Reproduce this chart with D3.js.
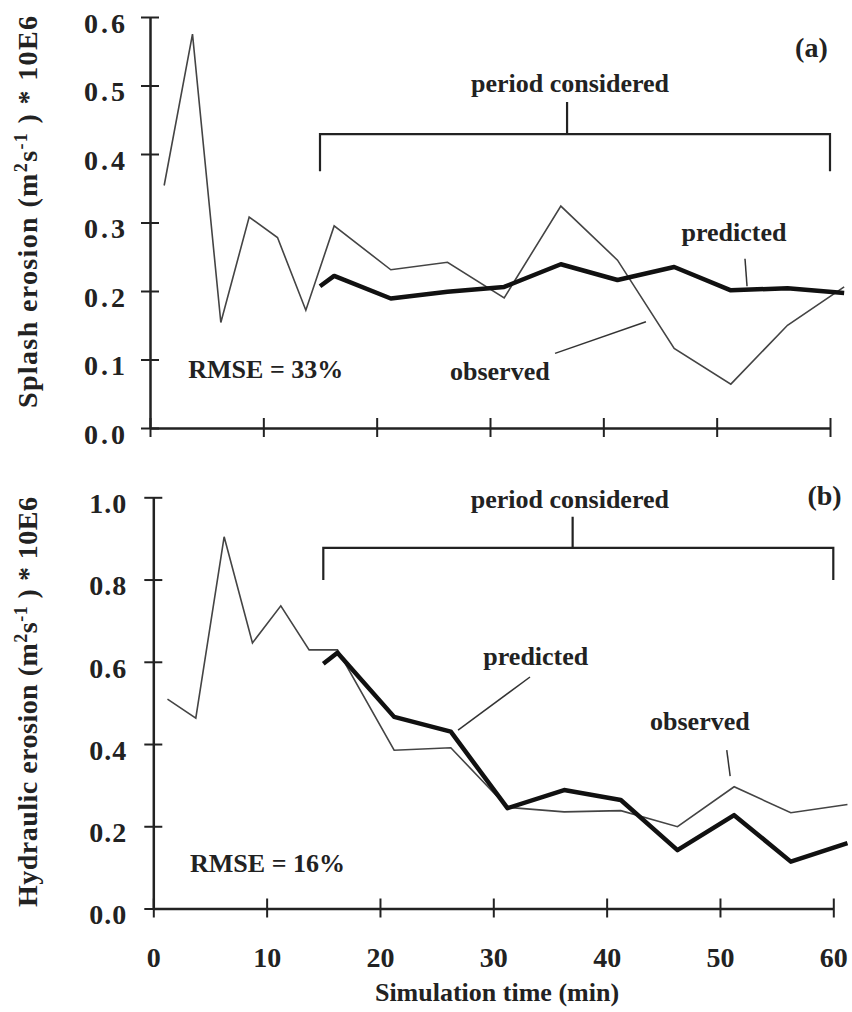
<!DOCTYPE html>
<html>
<head>
<meta charset="utf-8">
<script src="https://cdn.jsdelivr.net/npm/d3@7"></script>
<style>
  html, body { margin: 0; padding: 0; background: #fff; }
  svg text { font-family: "Liberation Serif", "Times New Roman", serif; font-weight: bold; fill: #222; }
</style>
</head>
<body>
<svg id="chart" width="852" height="1012"></svg>
<script>
// sample times (min)
var obsTime = [1.25, 3.75, 6.25, 8.75, 11.25, 13.75, 16.25, 21.25, 26.25, 31.25, 36.25, 41.25, 46.25, 51.25, 56.25, 61.25];
var predTime = [15, 16.25, 21.25, 26.25, 31.25, 36.25, 41.25, 46.25, 51.25, 56.25, 61.25];

// (a) splash erosion
var splashObserved = [0.354, 0.575, 0.154, 0.308, 0.278, 0.172, 0.295, 0.231, 0.242, 0.190, 0.324, 0.245, 0.116, 0.064, 0.150, 0.206];
var splashPredicted = [0.207, 0.222, 0.189, 0.199, 0.206, 0.239, 0.216, 0.235, 0.201, 0.204, 0.197];
var splashTicks = [0, 0.1, 0.2, 0.3, 0.4, 0.5, 0.6];

// (b) hydraulic erosion
var hydraulicObserved = [0.509, 0.463, 0.904, 0.646, 0.736, 0.629, 0.629, 0.385, 0.391, 0.246, 0.235, 0.238, 0.199, 0.296, 0.233, 0.253];
var hydraulicPredicted = [0.595, 0.622, 0.466, 0.430, 0.244, 0.288, 0.264, 0.142, 0.227, 0.114, 0.159];
var hydraulicTicks = [0, 0.2, 0.4, 0.6, 0.8, 1.0];

var timeTicks = [0, 10, 20, 30, 40, 50, 60];

var svg = d3.select('#chart');

var panels = [
    {
        x0: 150, x1: 830, y0: 428, y1: 17, yMax: 0.6,
        observed: splashObserved, predicted: splashPredicted, yTicks: splashTicks,
        yFormat: d3.format('.1f'), tickLabelX: -22, tickSpacing: 3,
        xLabels: false, letter: '(a)', letterPos: [59.8, 0.542],
        yTitle: 'Splash erosion', titleY: 212, titleLen: 392,
        rmse: 'RMSE = 33%', rmsePos: [3.38, 0.073],
        bracket: { from: 15, to: 60, top: 0.429, leg: 0.375, mid: 36.8, midTop: 0.476, text: [37.06, 0.4905] },
        notes: [
            { text: 'predicted', at: [46.9, 0.273], line: [[52.5, 0.247], [52.68, 0.207]] },
            { text: 'observed', at: [26.47, 0.070], line: [[35.74, 0.109], [43.76, 0.155]] }
        ]
    },
    {
        x0: 153.3, x1: 833.3, y0: 908.5, y1: 497.3, yMax: 1.0,
        observed: hydraulicObserved, predicted: hydraulicPredicted, yTicks: hydraulicTicks,
        yFormat: d3.format('.1f'), tickLabelX: -26, tickSpacing: 1,
        xLabels: true, letter: '(b)', letterPos: [60.74, 0.981],
        yTitle: 'Hydraulic erosion', titleY: 702, titleLen: 410,
        rmse: 'RMSE = 16%', rmsePos: [3.24, 0.0895],
        bracket: { from: 15, to: 60, top: 0.877, leg: 0.799, mid: 37.0, midTop: 0.953, text: [36.76, 0.974] },
        notes: [
            { text: 'predicted', at: [29.12, 0.592], line: [[33.24, 0.563], [26.89, 0.434]] },
            { text: 'observed', at: [43.83, 0.434], line: [[50.6, 0.385], [50.9, 0.322]] }
        ]
    }
];

panels.forEach(drawPanel);

svg.append('text')
    .attr('x', 497)
    .attr('y', 1001)
    .attr('text-anchor', 'middle')
    .attr('font-size', 26)
    .text('Simulation time (min)');

function drawPanel(p) {
    var x = d3.scaleLinear().domain([0, 60]).range([p.x0, p.x1]);
    var y = d3.scaleLinear().domain([0, p.yMax]).range([p.y0, p.y1]);
    var g = svg.append('g');

    // axes
    var yAxis = d3.axisLeft(y).tickValues(p.yTicks).tickFormat(p.yFormat)
        .tickSize(9).tickSizeOuter(0).tickPadding(0);
    var ya = g.append('g').attr('transform', 'translate(' + p.x0 + ',0)').call(yAxis);
    ya.selectAll('.tick line').attr('x1', 9);
    ya.selectAll('.tick text')
        .attr('x', p.tickLabelX)
        .attr('dy', '0.55em')
        .attr('font-size', 28)
        .attr('letter-spacing', p.tickSpacing);

    var xAxis = d3.axisBottom(x).tickValues(timeTicks)
        .tickFormat(p.xLabels ? d3.format('d') : '')
        .tickSize(9).tickSizeOuter(0);
    var xa = g.append('g').attr('transform', 'translate(0,' + p.y0 + ')').call(xAxis);
    xa.selectAll('.tick line').attr('y1', -10);
    xa.selectAll('.tick text').attr('y', 58).attr('dy', 0).attr('font-size', 28);

    [ya, xa].forEach(function (a) {
        a.attr('font-family', null).attr('font-size', null);
        a.select('.domain').attr('stroke', '#222').attr('stroke-width', 2.5);
        a.selectAll('.tick line').attr('stroke', '#222').attr('stroke-width', 2);
        a.selectAll('.tick text').attr('fill', '#222');
    });

    // series
    var obsLine = d3.line().x(function (d, i) { return x(obsTime[i]); }).y(function (d) { return y(d); });
    var predLine = d3.line().x(function (d, i) { return x(predTime[i]); }).y(function (d) { return y(d); });

    g.append('path').datum(p.observed)
        .attr('d', obsLine)
        .attr('fill', 'none').attr('stroke', '#444').attr('stroke-width', 1.6)
        .attr('stroke-linejoin', 'miter');

    g.append('path').datum(p.predicted)
        .attr('d', predLine)
        .attr('fill', 'none').attr('stroke', '#111').attr('stroke-width', 4.5)
        .attr('stroke-linejoin', 'round');

    // bracket for the period considered
    var b = p.bracket;
    var bracketPath = d3.path();
    bracketPath.moveTo(x(b.from), y(b.leg));
    bracketPath.lineTo(x(b.from), y(b.top));
    bracketPath.lineTo(x(b.to), y(b.top));
    bracketPath.lineTo(x(b.to), y(b.leg));
    bracketPath.moveTo(x(b.mid), y(b.top));
    bracketPath.lineTo(x(b.mid), y(b.midTop));
    g.append('path').attr('d', bracketPath.toString())
        .attr('fill', 'none').attr('stroke', '#222').attr('stroke-width', 2.2);

    g.append('text')
        .attr('x', x(b.text[0])).attr('y', y(b.text[1]))
        .attr('text-anchor', 'middle').attr('font-size', 26)
        .text('period considered');

    g.append('text')
        .attr('x', x(p.letterPos[0])).attr('y', y(p.letterPos[1]))
        .attr('text-anchor', 'end').attr('font-size', 28)
        .text(p.letter);

    g.append('text')
        .attr('x', x(p.rmsePos[0])).attr('y', y(p.rmsePos[1]))
        .attr('font-size', 26)
        .text(p.rmse);

    p.notes.forEach(function (n) {
        g.append('text')
            .attr('x', x(n.at[0])).attr('y', y(n.at[1]))
            .attr('font-size', 26)
            .text(n.text);
        g.append('line')
            .attr('x1', x(n.line[0][0])).attr('y1', y(n.line[0][1]))
            .attr('x2', x(n.line[1][0])).attr('y2', y(n.line[1][1]))
            .attr('stroke', '#333').attr('stroke-width', 1.5);
    });

    // y title with superscripts
    var t = svg.append('text')
        .attr('transform', 'translate(37,' + p.titleY + ') rotate(-90)')
        .attr('text-anchor', 'middle')
        .attr('font-size', 28)
        .attr('textLength', p.titleLen)
        .attr('lengthAdjust', 'spacing');
    t.append('tspan').text(p.yTitle + ' (m');
    t.append('tspan').attr('baseline-shift', 'super').attr('font-size', 18).text('2');
    t.append('tspan').text('s');
    t.append('tspan').attr('baseline-shift', 'super').attr('font-size', 18).text('-1');
    t.append('tspan').text(' ) * 10E6');
}
</script>
</body>
</html>
